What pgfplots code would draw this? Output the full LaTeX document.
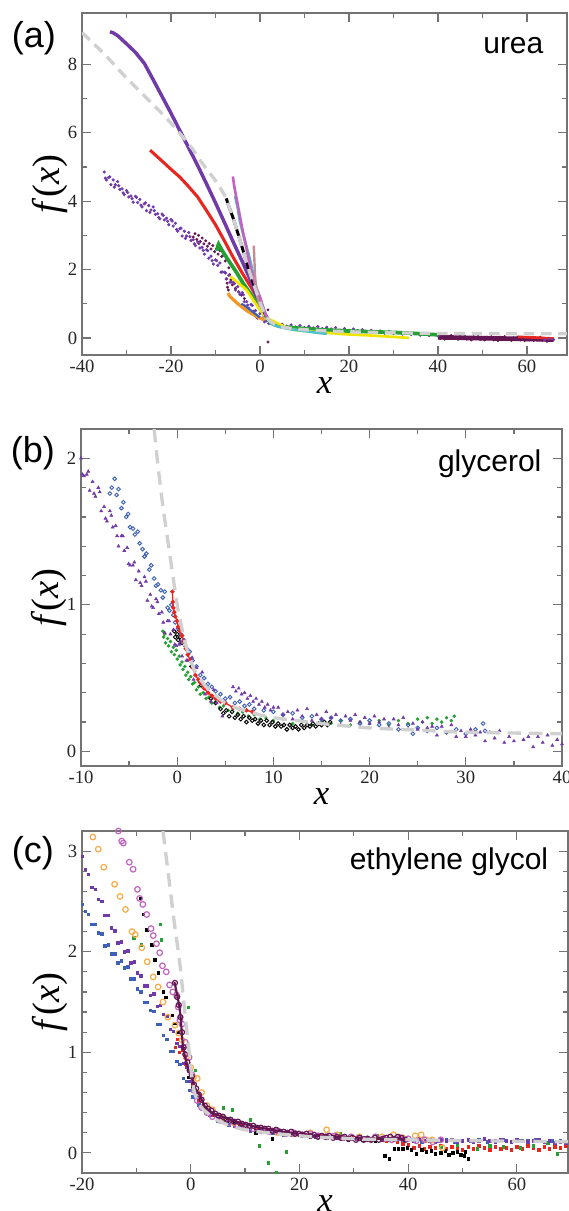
\documentclass[border=0pt]{standalone}
\usepackage{fontspec}
\setmainfont{Liberation Serif}
\newfontfamily\sans{Liberation Sans}
\usepackage{pgfplots}
\pgfplotsset{compat=1.18}

\definecolor{axcol}{RGB}{115,115,115}
\definecolor{vio}{RGB}{112,58,168}
\definecolor{mar}{RGB}{100,22,82}
\definecolor{dred}{RGB}{232,38,32}
\definecolor{dgreen}{RGB}{38,160,52}
\definecolor{dyel}{RGB}{240,228,0}
\definecolor{dora}{RGB}{247,150,35}
\definecolor{lora}{RGB}{250,170,70}
\definecolor{dcyan}{RGB}{72,192,200}
\definecolor{dmag}{RGB}{192,100,192}
\definecolor{drose}{RGB}{196,140,150}
\definecolor{dblue}{RGB}{62,96,182}
\definecolor{theo}{RGB}{208,208,208}

\pgfplotsset{
  panel/.style={
    scale only axis,
    axis line style={axcol, line width=1.1pt},
    every tick/.style={axcol, line width=0.9pt},
    major tick length=6.5pt, minor tick length=3.5pt,
    tick align=inside,
    ticklabel style={font=\fontsize{14}{14}\selectfont, text=black!85},
    /pgf/number format/assume math mode=true,
    clip mode=individual,
    xlabel={\textit{x}}, ylabel={\textit{f}(\textit{x})},
    xlabel style={font=\fontsize{26}{26}\selectfont, at={(axis description cs:0.5,0)}, yshift=-23pt, anchor=center},
    ylabel style={font=\fontsize{29}{29}\selectfont, at={(axis description cs:-0.066,0.5)}, anchor=center},
  },
  theory/.style={theo, line width=2.5pt, dash pattern=on 9pt off 5pt, no marks, smooth},
  fat/.style={#1, line width=2.3pt, no marks},
  dots/.style={#1, only marks, mark=*, mark size=0.8pt},
  sq/.style={#1, only marks, mark=square*, mark size=1.0pt},
  oc/.style={#1, only marks, mark=o, mark size=2.1pt, mark options={line width=0.9pt}},
  soc/.style={#1, only marks, mark=o, mark size=1.4pt, mark options={line width=0.7pt}},
}

\begin{document}
\begin{tikzpicture}
\useasboundingbox (0,0) rectangle (426pt,-908.25pt);

% ---------------- (a) urea ----------------
\begin{axis}[panel, at={(61.5pt,-9.75pt)}, anchor=north west,
  width=363.75pt, height=256.5pt,
  xmin=-40, xmax=69, ymin=-0.5, ymax=9.5,
  xtick={-40,-20,0,20,40,60}, minor x tick num=1,
  ytick={0,2,4,6,8}, minor y tick num=1]

\addplot[mar, line width=3.5pt, no marks] coordinates {(40,0.02) (50,-0.01) (60,-0.03) (66,-0.05)};
\addplot[dots=mar, mark size=0.9pt] coordinates {
(40,0.07) (40.5,-0.02) (41,0.04) (41.5,-0.04) (42,0.05) (42.5,0.00) (43,0.07) (43.5,-0.02)
(44,0.02) (44.5,-0.04) (45,0.04) (45.5,-0.02) (46,0.05) (46.5,-0.04) (47,0.02) (47.5,-0.06)
(48,0.04) (48.5,-0.01) (49,0.05) (49.5,-0.04) (50,0.00) (50.5,-0.06) (51,0.02) (51.5,-0.03)
(52,0.04) (52.5,-0.06) (53,0.00) (53.5,-0.08) (54,0.02) (54.5,-0.03) (55,0.04) (55.5,-0.05)
(56,-0.01) (56.5,-0.07) (57,0.00) (57.5,-0.04) (58,0.03) (58.5,-0.06) (59,-0.02) (59.5,-0.08)
(60,0.01) (60.5,-0.06) (61,0.01) (61.5,-0.07) (62,-0.02) (62.5,-0.05) (63,0.02) (63.5,-0.07)
(64,-0.04) (64.5,-0.10) (65,-0.02) (65.5,-0.06)
(-15,2.95) (-14.6,3.05) (-14.2,2.88) (-13.8,3.0) (-13.4,2.82) (-13,2.92) (-12.6,2.75) (-12.2,2.84)
(-11.8,2.68) (-11.4,2.76) (-11,2.6) (-10.6,2.7) (-10.2,2.52) (-9.8,2.6) (-9.4,2.45) (-9,2.55)
(-8.6,2.38) (-8.2,2.42) (-7.8,2.25) (-7.4,2.3) (-7,2.05) (-6.8,1.85) (-6.5,1.7) (-6.2,1.55)
(-7.6,1.72) (-7.4,1.6) (-7.3,1.48) (-7.1,1.4) (-5.5,1.45) (-4.8,1.35) (-4.2,1.25) (-3.5,1.15)
(1.8,0.82) (1.8,-0.12)};
\addplot[dred, line width=2pt, no marks] coordinates {(58,0.03) (62,0.01) (66,-0.02)};
\addplot[dots=vio, mark size=1pt] coordinates {
(-35.0,4.85) (-34.5,4.62) (-34.0,4.69) (-33.5,4.48) (-33.0,4.62) (-32.5,4.48) (-32.0,4.57) (-31.5,4.34)
(-31.0,4.36) (-30.5,4.19) (-30.0,4.31) (-29.5,4.12) (-29.0,4.15) (-28.5,3.97) (-28.0,4.14) (-27.5,3.96)
(-27.0,4.05) (-26.5,3.83) (-26.0,3.92) (-25.5,3.72) (-25.0,3.87) (-24.5,3.74) (-24.0,3.83) (-23.5,3.61)
(-23.0,3.63) (-22.5,3.48) (-22.0,3.62) (-21.5,3.45) (-21.0,3.50) (-20.5,3.31) (-20.0,3.46) (-19.5,3.27)
(-19.0,3.35) (-18.5,3.12) (-18.0,3.19) (-17.5,2.98) (-17.0,3.12) (-16.5,2.98) (-16.0,3.08) (-15.5,2.85)
(-15.0,2.87) (-14.5,2.70) (-14.0,2.81) (-13.5,2.63) (-13.0,2.65) (-12.5,2.45) (-12.0,2.58) (-11.5,2.33)
(-11.0,2.39) (-10.5,2.16) (-10.0,2.28) (-9.5,2.12) (-9.0,2.19) (-8.5,1.93) (-8.0,1.92) (-7.5,1.73)
(-7.0,1.83) (-6.5,1.63) (-6.0,1.63) (-5.5,1.40) (-5.0,1.50) (-4.5,1.27) (-4.0,1.32) (-3.5,1.06)
(-3.0,1.06) (-2.5,0.87) (-2.0,0.98) (-1.5,0.78) (-1.0,0.80) (-0.5,0.58) (0.0,0.71)
(-34.75,4.67) (-33.75,4.71) (-32.75,4.41) (-31.75,4.45) (-30.75,4.24) (-29.75,4.25) (-28.75,4.07)
(-27.75,4.11) (-26.75,3.88) (-25.75,3.95) (-24.75,3.67) (-23.75,3.72) (-22.75,3.52) (-21.75,3.58)
(-20.75,3.41) (-19.75,3.42) (-18.75,3.17) (-17.75,3.21) (-16.75,2.91) (-15.75,2.96) (-14.75,2.75)
(-13.75,2.76) (-12.75,2.56) (-11.75,2.55) (-10.75,2.26) (-9.75,2.26) (-8.75,1.92) (-7.75,1.90)
(-6.75,1.63) (-5.75,1.59) (-4.75,1.34) (-3.75,1.26) (-2.75,0.96) (-1.75,0.95) (-0.75,0.60)
(0.5,0.58) (1,0.47) (1.5,0.50) (2,0.42) (2.5,0.46) (3,0.40) (3.5,0.43) (4,0.36) (5,0.40) (6,0.34)
(7,0.38) (8,0.32) (9,0.36) (10,0.30) (11,0.34) (12,0.29) (13,0.33) (14,0.27) (15,0.31) (16,0.26)
(17,0.30) (18,0.23) (19,0.27) (20,0.22) (21,0.26) (22,0.21) (23,0.24) (24,0.18) (25,0.22) (26,0.17)
(27,0.20) (28,0.14) (29,0.18) (30,0.13) (31,0.16) (32,0.11) (33,0.15) (34,0.10) (35,0.13) (36,0.08)
(37,0.12) (38,0.07) (39,0.10) (40,0.06) (64,-0.06) (65,-0.03) (66,-0.05)};

\addplot[fat=dred] coordinates {(-24.7,5.49) (-22,5.17) (-20,4.93) (-18,4.70) (-16,4.42) (-14,4.12)
(-12,3.72) (-10,3.31) (-8,2.84) (-6,2.35) (-4,1.9) (-2,1.48) (-1,1.25) (0,1.0) (1,0.72) (2,0.52) (3,0.42)};
\addplot[fat=vio, line width=2.6pt] coordinates {(-33.7,8.95) (-33,8.92) (-32,8.84) (-31,8.72) (-30,8.6)
(-28,8.35) (-26,8.03) (-24,7.55) (-22,7.06) (-20,6.57) (-18,6.06) (-16,5.55) (-14,5.04) (-12,4.5)
(-10,3.95) (-8,3.38) (-6,2.8) (-4,2.24) (-2,1.65) (-1,1.3) (0,0.95) (1,0.7) (2,0.5)};
\addplot[fat=dgreen, line width=2.8pt] coordinates {(-9.6,2.55) (-9.5,2.68) (-9.3,2.74) (-8.8,2.62)
(-8,2.45) (-6.7,2.19) (-5.2,1.9) (-3.8,1.6) (-2.2,1.3) (-0.7,1.02) (0.7,0.73) (2,0.5) (3,0.4)
(5,0.33) (10,0.27) (15,0.23) (20,0.2) (25,0.18) (30,0.16) (35,0.13) (40,0.09)};
\addplot[fat=dyel, line width=2pt] coordinates {(-6.7,1.8) (-5,1.62) (-3,1.4) (-1.5,1.1) (0,0.82)
(1.5,0.58) (3.8,0.44) (6,0.3) (8,0.23) (12,0.18) (16,0.14) (20,0.1) (25,0.07) (30,0.03) (33.5,0.0)};
\addplot[fat=dora, line width=2.4pt] coordinates {(-7.2,1.31) (-6.8,1.22) (-6,1.12) (-5,1.0) (-4,0.9)
(-3,0.8) (-2,0.72) (-1,0.65) (0,0.58) (1,0.52)};
\addplot[fat=dblue, line width=1.6pt] coordinates {(-4.2,1.0) (-3.5,0.95) (-3,0.9) (-2,0.8) (-1,0.7) (0,0.6)};
\addplot[fat=black, line width=2.2pt] coordinates {(-7.6,4.08) (-7,3.85) (-6.1,3.53) (-5.3,3.2)
(-4.5,2.86) (-3.6,2.47) (-2.7,2.07) (-1.7,1.68) (-0.7,1.31) (0.4,0.9) (1.5,0.6)};
\addplot[fat=dcyan, line width=2pt] coordinates {(-5.6,4.15) (-5,3.8) (-4.5,3.4) (-3.5,2.9) (-2.2,2.27)
(-1.5,1.85) (-0.7,1.4) (0,1.1) (0.7,0.9) (1.5,0.6) (2.5,0.42) (4,0.33) (7,0.25) (10,0.2) (13,0.15) (15,0.12)};
\addplot[fat=dmag, line width=2pt] coordinates {(-6.1,4.72) (-5.8,4.45) (-5.2,4.03) (-4.5,3.55)
(-3.8,3.07) (-3,2.6) (-2.3,2.15) (-1.6,1.78) (-0.8,1.45) (0,1.2) (0.8,0.85) (1.5,0.6)};
\addplot[fat=drose, line width=1.8pt] coordinates {(-1.4,2.7) (-1.3,2.4) (-1.2,2.1) (-1.1,1.8)
(-0.9,1.5) (-0.6,1.2) (0,0.9)};

\addplot[theory, dash pattern=on 8pt off 5pt] coordinates {(-40,8.93) (-35,8.3) (-30,7.6) (-25,6.95)
(-20,6.28) (-15,5.5) (-13.5,5.2) (-10,4.6) (-9,4.4) (-8,4.18) (-7.6,4.08) (-7,3.85) (-6.1,3.53)
(-5.3,3.2) (-4.5,2.86) (-3.6,2.47) (-2.7,2.07) (-1.7,1.68) (-0.7,1.31) (0.4,0.9) (1.5,0.6) (3,0.42)
(5,0.32) (10,0.24) (20,0.18) (30,0.15) (40,0.13) (50,0.125) (69,0.12)};

\node[font=\sans\fontsize{27}{27}\selectfont, anchor=center] at (rel axis cs:-0.099,0.927) {(a)};
\node[font=\sans\fontsize{22.5}{22.5}\selectfont, anchor=base east] at (rel axis cs:0.961,0.883) {urea};
\end{axis}

% ---------------- (b) glycerol ----------------
\begin{axis}[panel, at={(60.75pt,-321.75pt)}, anchor=north west,
  width=360.75pt, height=252.75pt,
  xmin=-10, xmax=40, ymin=-0.1, ymax=2.2,
  xtick={-10,0,10,20,30,40}, minor x tick num=1,
  ytick={0,1,2}, minor y tick num=4]

\addplot[dots=dgreen, mark size=1.1pt] coordinates {
(-1.5,0.82) (-1.4,0.78) (-1.3,0.80) (-1.2,0.74) (-1.0,0.77) (-0.9,0.72) (-0.7,0.75) (-0.6,0.68)
(-0.4,0.71) (-0.3,0.66) (-0.1,0.69) (0.0,0.63) (0.2,0.65) (0.3,0.59) (0.5,0.61) (0.6,0.56)
(0.8,0.58) (0.9,0.52) (1.1,0.54) (1.2,0.49) (1.4,0.51) (1.6,0.46) (1.8,0.47) (2.0,0.42)
(2.2,0.44) (2.4,0.39) (2.7,0.40) (3.0,0.36) (3.3,0.37) (3.6,0.33) (4.0,0.34) (4.4,0.30)
(4.8,0.31) (5.3,0.28) (5.8,0.29) (6.3,0.26) (6.8,0.27) (7.4,0.24) (8,0.25) (8.6,0.22) (9.2,0.23)
(10,0.21) (11,0.22) (12,0.19) (13,0.21) (14,0.18) (15,0.2) (16,0.19) (17,0.21) (18,0.18) (19,0.2)
(20,0.19) (21,0.21) (22,0.18) (23,0.21) (24,0.19) (25,0.22) (25.5,0.2) (26,0.23) (26.5,0.19)
(27,0.22) (27.5,0.2) (28,0.23) (28.5,0.21) (28.8,0.24)};
\addplot[soc=black] coordinates {
(-0.3,0.82) (-0.2,0.78) (0,0.80) (0.1,0.76) (0.2,0.83) (0.3,0.78) (0.5,0.74) (1.5,0.58) (2.5,0.45)
(3.5,0.36) (4,0.33) (4.5,0.29) (4.8,0.26) (5.1,0.28) (5.4,0.24) (5.7,0.27) (6.0,0.23) (6.3,0.25)
(6.6,0.22) (6.9,0.24) (7.2,0.20) (7.5,0.23) (7.8,0.21) (8.1,0.22) (8.4,0.19) (8.7,0.21) (9.0,0.18)
(9.3,0.21) (9.6,0.18) (9.9,0.20) (10.2,0.17) (10.5,0.19) (10.8,0.17) (11.1,0.18) (11.4,0.15)
(11.7,0.18) (12.0,0.16) (12.3,0.17) (12.6,0.15) (12.9,0.18) (13.2,0.16) (13.5,0.18) (13.8,0.17)
(14.1,0.19) (14.4,0.17) (14.7,0.19) (15.0,0.18) (15.3,0.2) (15.6,0.18) (15.9,0.2)};
\addplot[soc=dblue] coordinates {
(-7.0,1.76) (-6.8,1.80) (-6.5,1.86) (-6.3,1.75) (-6.1,1.79) (-5.8,1.66) (-5.6,1.70) (-5.3,1.60)
(-5.1,1.62) (-4.9,1.53) (-4.6,1.52) (-4.4,1.48) (-4.1,1.50) (-3.9,1.42) (-3.6,1.38) (-3.4,1.33)
(-3.2,1.35) (-2.9,1.24) (-2.7,1.27) (-2.4,1.18) (-2.2,1.13) (-2.0,1.14) (-1.7,1.10) (-1.5,1.05)
(-1.3,1.09) (-1.0,0.98) (-0.8,0.96) (-0.6,1.0) (-0.4,0.93) (-0.2,0.88) (0.1,0.84) (0.4,0.80)
(0.7,0.76) (1.0,0.70) (1.3,0.68) (1.6,0.62) (2.0,0.58) (2.4,0.52) (2.8,0.50) (3.2,0.46) (3.6,0.44)
(4.0,0.41) (4.5,0.39) (5.0,0.36) (5.5,0.37) (6.0,0.33) (6.5,0.34) (7.0,0.31) (7.5,0.32) (8.0,0.29)
(9.0,0.28) (10.0,0.27) (11,0.25) (12,0.26) (13,0.23) (14,0.24) (15,0.22) (16,0.23) (17,0.21)
(18,0.22) (19,0.19) (20,0.21) (21,0.18) (22,0.19) (23,0.15) (24,0.18) (24.5,0.12) (25,0.16)
(26,0.14) (27,0.16) (28,0.13) (29,0.15) (30,0.12) (31,0.15) (31.8,0.19) (32,0.14)};
\addplot[dots=vio, mark=triangle*, mark size=1.3pt] coordinates {
(-10.0,2.00) (-9.7,1.88) (-9.4,1.89) (-9.1,1.78) (-8.8,1.84) (-8.5,1.74) (-8.2,1.80) (-7.9,1.64)
(-7.6,1.67) (-7.3,1.57) (-7.0,1.64) (-6.7,1.53) (-6.4,1.54) (-6.1,1.40) (-5.8,1.47) (-5.5,1.37)
(-5.2,1.39) (-4.9,1.27) (-4.6,1.27) (-4.3,1.17) (-4.0,1.23) (-3.7,1.13) (-3.4,1.19) (-3.1,1.03)
(-2.8,1.07) (-2.5,0.98) (-2.2,1.04) (-1.9,0.94) (-1.6,0.95) (-1.3,0.81) (-1.0,0.89) (-0.7,0.80)
(-0.4,0.83) (-0.1,0.72) (0.2,0.73) (0.5,0.65) (0.8,0.72) (1.1,0.62) (1.4,0.63) (1.7,0.49)
(2.0,0.57) (2.3,0.48) (2.6,0.54) (2.9,0.39) (3.2,0.43) (3.5,0.34) (3.8,0.42) (4.1,0.33) (4.4,0.35)
(4.7,0.24) (5.0,0.34)
(-9.85,1.89) (-9.25,1.91) (-8.65,1.76) (-8.05,1.77) (-7.45,1.59) (-6.85,1.61) (-6.25,1.47)
(-5.65,1.47) (-5.05,1.28) (-4.45,1.29) (-3.85,1.15) (-3.25,1.16) (-2.65,0.99) (-2.05,1.02)
(-1.45,0.88) (-0.85,0.89) (-0.25,0.73) (0.35,0.75) (0.95,0.62) (1.55,0.64)
(5.8,0.44) (6.1,0.41) (6.4,0.43) (6.7,0.39) (7.0,0.40) (7.3,0.36) (7.6,0.38) (7.9,0.34) (8.2,0.36)
(8.5,0.32) (8.8,0.34) (9.1,0.30) (9.4,0.32) (9.7,0.28) (10,0.30)
(10.5,0.30) (11,0.25) (11.5,0.27) (12,0.22) (12.5,0.28) (13,0.24) (13.5,0.29) (14,0.21) (14.5,0.25)
(15,0.22) (15.5,0.27) (16,0.23) (16.5,0.25) (17,0.18) (17.5,0.24) (18,0.21) (18.5,0.25) (19,0.20)
(19.5,0.23) (20,0.19) (20.5,0.24) (21,0.20) (21.5,0.22) (22,0.16) (22.5,0.22) (23,0.18) (23.5,0.23)
(24,0.15) (24.5,0.19) (25,0.15) (25.5,0.20) (26,0.16) (26.5,0.17) (27,0.11) (27.5,0.17) (28,0.13)
(28.5,0.18) (29,0.10) (29.5,0.14) (30,0.10) (30.5,0.15) (31,0.11) (31.5,0.13) (32,0.07) (32.5,0.13)
(33,0.09) (33.5,0.14) (34,0.06) (34.5,0.10) (35,0.07) (35.5,0.12) (36,0.08) (36.5,0.10) (37,0.03)
(37.5,0.10) (38,0.06) (38.5,0.11) (39,0.04) (39.5,0.08) (40,0.05)};
\addplot[dred, line width=1pt, mark=*, mark size=1.1pt] coordinates {
(-0.5,1.09) (-0.45,1.02) (-0.4,0.98) (-0.3,0.95) (-0.2,0.92) (0,0.89) (0.1,0.85) (0.3,0.82)
(0.5,0.79) (0.7,0.75) (0.9,0.70) (1.1,0.66) (1.35,0.62) (1.6,0.57) (1.9,0.52) (2.2,0.49) (2.4,0.47)
(2.8,0.43) (3.2,0.4) (3.6,0.38) (4.0,0.36) (4.5,0.34) (5,0.33) (5.8,0.3) (6.5,0.29) (7.2,0.28) (7.8,0.27)};

\addplot[theory, dash pattern=on 10pt off 6pt] coordinates {(-2.4,2.2) (-2,1.95) (-1.5,1.68) (-1,1.45)
(-0.5,1.22) (0,1.0) (0.3,0.9) (0.6,0.8) (1,0.7) (1.5,0.6) (2,0.53) (3,0.44) (4,0.38) (5,0.33)
(6,0.3) (8,0.26) (10,0.23) (15,0.19) (20,0.16) (25,0.145) (30,0.13) (35,0.125) (40,0.12)};

\node[font=\sans\fontsize{27}{27}\selectfont, anchor=center] at (rel axis cs:-0.1,0.929) {(b)};
\node[font=\sans\fontsize{22.5}{22.5}\selectfont, anchor=base east] at (rel axis cs:0.967,0.875) {glycerol};
\end{axis}

% ---------------- (c) ethylene glycol ----------------
\begin{axis}[panel, at={(61.5pt,-623.25pt)}, anchor=north west,
  width=364.5pt, height=256.5pt,
  xmin=-20, xmax=69.4, ymin=-0.2, ymax=3.2,
  xtick={-20,0,20,40,60}, minor x tick num=1,
  ytick={0,1,2,3}, minor y tick num=4]

\addplot[sq=dred, mark size=0.9pt] coordinates {
(-2.8,1.05) (-2.5,1.13) (-2.1,1.0) (-1.6,1.02) (-1.2,0.95) (-0.9,0.88) (-0.5,0.85) (-0.1,0.79)
(0.3,0.68) (0.8,0.6) (1.5,0.52) (2.5,0.45) (4,0.38) (6,0.32) (9,0.27) (12,0.23) (15,0.2) (18,0.19)
(21,0.18) (24,0.17) (27,0.16) (30,0.15) (33,0.13) (36,0.12) (38,0.11) (39,0.09)
(40,0.08) (41,0.05) (42,0.07) (43,0.04) (44,0.06) (45,0.05) (46,0.07) (47,0.04) (48,0.06) (49,0.05)
(50,0.03) (51,0.06) (52,0.04) (53,0.07) (54,0.05) (55,0.03) (56,0.06) (57,0.04) (58,0.05) (59,0.03)
(60,0.06) (61,0.04) (62,0.07) (63,0.05) (64,0.03) (65,0.06) (66,0.04) (67,0.06) (68,0.05) (69,0.07)};
\addplot[sq=dgreen, mark size=0.9pt] coordinates {
(-10.5,2.14) (-9.1,2.07) (-5.6,2.27) (-5.4,2.12) (-0.5,1.45) (0.8,0.82) (4.1,0.4) (6,0.45) (7.6,0.43)
(10.9,0.33) (12.6,0.07) (14.3,-0.1) (15.7,-0.19) (17.6,0.01) (27.5,0.19) (34.3,0.17) (42.6,0.03)
(46,0.06) (49,0.08) (52.7,0.04) (55,0.07) (57.5,0.06) (60.6,0.05) (63,0.07) (65.7,0.10) (67.4,-0.01)};
\addplot[sq=black, mark size=0.9pt] coordinates {
(-9.3,2.53) (-8.7,2.37) (-8.1,2.22) (-7.2,2.07) (-6.6,1.92) (-6,1.79) (-5.1,1.6) (-4.6,1.55)
(-3.4,1.37) (-2.9,1.29) (-2.4,1.2) (-1.4,1.04) (-0.5,0.75) (0.3,0.65) (3,0.4) (6.6,0.32) (8,0.3)
(12,0.2) (15,0.14) (22,0.16) (25,0.15) (28,0.14) (29,0.13) (32,0.13) (34,0.12)
(35.7,-0.03) (36.5,-0.06) (37.4,0.04) (38.2,0.04) (39,0.04) (39.8,0.05) (40.6,0.03) (41.5,-0.01)
(42.5,0.03) (43.3,0.01) (44.2,0.02) (45,-0.01) (46,0.0) (46.8,0.02) (47.5,-0.02) (48.2,0.0)
(49,0.01) (49.7,-0.02) (50.3,-0.03) (51,-0.06) (50.5,0.01)};
\addplot[sq=dblue, mark size=0.9pt] coordinates {
(-20.0,2.47) (-19.4,2.40) (-18.8,2.37) (-18.2,2.27) (-17.6,2.27) (-17.0,2.19) (-16.4,2.18) (-15.8,2.06)
(-15.2,2.07) (-14.6,1.98) (-14.0,1.98) (-13.4,1.89) (-12.8,1.91) (-12.2,1.84) (-11.6,1.85) (-11.0,1.73)
(-10.4,1.73) (-9.8,1.63) (-9.2,1.60) (-8.6,1.50) (-8.0,1.50) (-7.4,1.42) (-6.8,1.41) (-6.2,1.28)
(-5.6,1.28) (-5.0,1.17) (-4.4,1.13) (-3.8,1.01) (-3.2,1.01) (-2.6,0.91) (-2.0,0.88) (-1.4,0.74)
(-0.8,0.71) (-0.2,0.62)
(0.4,0.56) (1.5,0.48) (3,0.4) (5,0.32) (7,0.28) (9,0.25) (11,0.22) (13,0.21) (15,0.2) (17,0.18)
(19,0.18) (21,0.17) (23,0.16) (25,0.16) (27,0.15) (29,0.15) (31,0.14) (33,0.14) (35,0.13) (37,0.14)
(39,0.13) (41,0.13) (42.5,0.11) (44,0.12) (45.5,0.12) (47,0.13) (48.5,0.11) (50,0.12) (51.5,0.12)
(53,0.13) (54.5,0.11) (56,0.12) (57.5,0.13) (59,0.11) (60.5,0.12) (62,0.12) (63.5,0.13) (65,0.11)
(66.5,0.12) (68,0.12) (69.5,0.11)};
\addplot[sq=vio, mark size=0.9pt] coordinates {
(-20.0,2.95) (-19.4,2.82) (-18.8,2.77) (-18.2,2.64) (-17.6,2.62) (-17.0,2.52) (-16.4,2.50) (-15.8,2.36)
(-15.2,2.36) (-14.6,2.24) (-14.0,2.21) (-13.4,2.09) (-12.8,2.10) (-12.2,2.00) (-11.6,2.01) (-11.0,1.89)
(-10.4,1.90) (-9.8,1.79) (-9.2,1.76) (-8.6,1.66) (-8.0,1.66) (-7.4,1.57) (-6.8,1.58) (-6.2,1.46)
(-5.6,1.47) (-5.0,1.38) (-4.4,1.36) (-3.8,1.23) (-3.2,1.21) (-2.6,1.09) (-2.0,1.06) (-1.4,0.89)
(-0.8,0.85) (-0.2,0.71) (0.4,0.63)
(2,0.46) (3.5,0.38) (5,0.34) (6.5,0.3) (8,0.27) (9.5,0.26) (11,0.23) (12.5,0.22) (14,0.21) (15.5,0.2)
(17,0.19) (18.5,0.18) (20,0.18) (21.5,0.17) (23,0.17) (24.5,0.16) (26,0.16) (27.5,0.15) (29,0.15)
(30.5,0.14) (32,0.15) (33.5,0.14) (35,0.14) (36.5,0.13) (38,0.14) (39.5,0.13) (41,0.12) (42,0.14)
(43,0.12) (44,0.13) (45,0.11) (46,0.13) (47,0.12) (48,0.13) (49,0.11) (50,0.12) (51,0.13) (52,0.11)
(53,0.12) (54,0.14) (55,0.12) (56,0.11) (57,0.13) (58,0.12) (59,0.11) (60,0.13) (61,0.12) (62,0.11)
(63,0.12) (64,0.13) (65,0.11) (66,0.12) (67,0.1) (68,0.11) (69,0.1)};
\addplot[oc=lora] coordinates {
(-18,3.14) (-17,3.02) (-16,2.84) (-14,2.67) (-13,2.55) (-12,2.42) (-10.8,2.2) (-10.2,2.17) (-9,2.04)
(-8,1.9) (-6.9,1.75) (-6,1.65) (-5.1,1.5) (-4.2,1.35) (-2.9,1.27) (-2.2,1.19) (-1.6,1.12) (-0.8,0.95)
(0,0.85) (0.5,0.75) (1.2,0.74) (2,0.6) (3,0.47) (4,0.43) (6,0.35) (8,0.3) (10,0.26) (13,0.22)
(16,0.2) (19,0.19) (22,0.2) (25,0.23) (27,0.18) (31,0.16) (35.2,0.16) (37.3,0.18) (39,0.15)
(41.3,0.17) (42.4,0.18) (43.3,0.13) (44.4,0.13) (46.3,0.05)};
\addplot[oc=dmag] coordinates {
(-13.3,3.20) (-12.7,3.10) (-12.4,3.08) (-11.3,2.89) (-10.6,2.82) (-9.8,2.62) (-9.4,2.53) (-8.8,2.47)
(-8.1,2.37) (-7.3,2.23) (-6.9,2.16) (-6.3,2.08) (-5.7,1.99) (-5.2,1.86) (-4.5,1.80) (-3.9,1.67)
(-3.3,1.60) (-2.6,1.57) (-2.3,1.45) (-2.0,1.32) (-1.6,1.28) (-1.0,1.1) (-0.7,1.02) (-0.3,0.95)
(0.2,0.78) (0.6,0.62) (1.2,0.52) (2,0.45) (3,0.4) (4,0.36) (5.5,0.32) (7,0.3) (8.5,0.27) (10,0.26)
(11.5,0.24) (13,0.22) (14.5,0.21) (16,0.22) (17.5,0.19) (19,0.2) (20.5,0.18) (22,0.19) (23.5,0.17)
(25,0.16) (26.5,0.17) (28,0.15) (29.5,0.16) (31,0.15) (32.5,0.14) (34,0.16) (35.5,0.14) (37,0.13)
(38.5,0.15) (40,0.14) (41.5,0.12) (43,0.13) (44.5,0.11) (46,0.13)};
\addplot[mar, line width=1.6pt, no marks, smooth] coordinates {(-3,1.7) (-2,1.42) (-1.4,1.05)
(-0.5,0.85) (0.2,0.75) (1,0.62) (1.7,0.57) (2.6,0.46) (4,0.4) (6.3,0.35) (8,0.32) (9.6,0.29)
(12,0.26) (14,0.24) (17,0.21) (20,0.19) (23,0.17) (26,0.16) (29.4,0.15) (32,0.15) (35,0.14)
(38,0.15) (39.5,0.13)};
\addplot[oc=mar, mark size=1.9pt] coordinates {
(-2.9,1.69) (-2.5,1.55) (-2.2,1.47) (-1.9,1.35) (-1.6,1.2) (-1.3,1.05) (-1.0,0.98) (-0.6,0.9)
(-0.2,0.82) (0.2,0.76) (0.6,0.68) (1.0,0.64) (1.5,0.58) (2.0,0.53) (2.6,0.47) (3.2,0.44) (3.8,0.42)
(4.5,0.39) (5.2,0.37) (5.9,0.36) (6.6,0.33) (7.3,0.33) (8.0,0.31) (8.7,0.31) (9.4,0.29) (10.1,0.28)
(10.8,0.27) (11.5,0.27) (12.2,0.25) (12.9,0.25) (13.6,0.24) (14.3,0.24) (15.0,0.22) (15.7,0.23)
(16.4,0.21) (17.1,0.21) (17.8,0.2) (18.5,0.21) (19.2,0.19) (19.9,0.19) (20.6,0.18) (21.3,0.19)
(22.0,0.17) (22.7,0.18) (23.4,0.16) (24.1,0.17) (24.8,0.16) (25.5,0.17) (26.2,0.15) (26.9,0.16)
(27.6,0.15) (28.3,0.16) (29.0,0.14) (29.7,0.15) (30.4,0.13) (31.1,0.15) (31.8,0.13) (32.5,0.14)
(33.2,0.13) (33.9,0.15) (34.6,0.13) (35.3,0.14) (36.0,0.15) (36.7,0.16) (37.4,0.14) (38.1,0.16)
(38.8,0.15) (39.5,0.13)};

\addplot[theory, dash pattern=on 10pt off 6pt] coordinates {(-5.1,3.2) (-4,2.72) (-3,2.28) (-2,1.88)
(-1,1.35) (0,0.85) (0.5,0.65) (1,0.55) (2,0.45) (3,0.4) (5,0.32) (10,0.23) (20,0.17) (30,0.14)
(40,0.13) (69.4,0.11)};

\node[font=\sans\fontsize{27}{27}\selectfont, anchor=center] at (rel axis cs:-0.101,0.936) {(c)};
\node[font=\sans\fontsize{22.5}{22.5}\selectfont, anchor=base east] at (rel axis cs:0.969,0.886) {ethylene glycol};
\end{axis}
\end{tikzpicture}
\end{document}
